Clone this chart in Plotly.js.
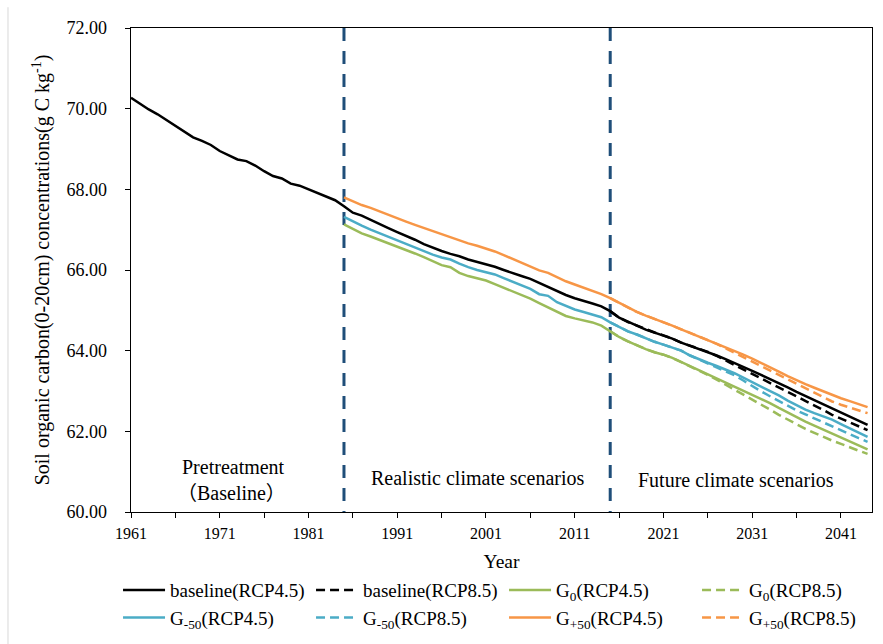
<!DOCTYPE html>
<html>
<head>
<meta charset="utf-8">
<script src="https://cdn.plot.ly/plotly-3.0.1.min.js"></script>
<style>html,body{margin:0;padding:0;background:#fff;}#chart{width:883px;height:644px;}</style>
</head>
<body>
<div id="chart"></div>
<script>
// ---- data ----
var startYearBase = 1961;
var startYearScen = 1985;
var startYearRcp85 = 2015;
var dividerYears = [1985, 2015];

var baselineRCP45 = [
  70.27, 70.12, 69.98, 69.86, 69.72, 69.58, 69.43, 69.29, 69.20, 69.10,
  68.95, 68.85, 68.74, 68.70, 68.59, 68.45, 68.33, 68.27, 68.14, 68.09,
  68.00, 67.91, 67.83, 67.73, 67.58, 67.42, 67.35, 67.24, 67.14, 67.04,
  66.94, 66.85, 66.75, 66.64, 66.55, 66.47, 66.40, 66.34, 66.26, 66.20,
  66.14, 66.08, 66.00, 65.92, 65.85, 65.78, 65.68, 65.58, 65.47, 65.38,
  65.30, 65.24, 65.17, 65.10, 64.98, 64.82, 64.71, 64.62, 64.52, 64.45,
  64.38, 64.30, 64.20, 64.12, 64.05, 63.97, 63.88, 63.79, 63.70, 63.60,
  63.50, 63.40, 63.30, 63.20, 63.09, 62.98, 62.88, 62.78, 62.68, 62.57,
  62.47, 62.37, 62.26, 62.16
];
var baselineRCP85 = [
  64.98, 64.82, 64.71, 64.62, 64.52, 64.45, 64.38, 64.30, 64.20, 64.12,
  64.05, 63.97, 63.87, 63.76, 63.65, 63.54, 63.43, 63.32, 63.21, 63.10,
  62.98, 62.86, 62.75, 62.64, 62.53, 62.41, 62.32, 62.23, 62.13, 62.03
];
var g0RCP45 = [
  67.13, 67.02, 66.91, 66.83, 66.75, 66.67, 66.58, 66.50, 66.41, 66.32,
  66.22, 66.12, 66.07, 65.93, 65.85, 65.80, 65.74, 65.65, 65.56, 65.48,
  65.39, 65.29, 65.18, 65.07, 64.96, 64.86, 64.80, 64.75, 64.70, 64.62,
  64.48, 64.34, 64.23, 64.13, 64.04, 63.96, 63.90, 63.82, 63.72, 63.62,
  63.52, 63.42, 63.32, 63.22, 63.12, 63.02, 62.92, 62.82, 62.70, 62.58,
  62.46, 62.34, 62.24, 62.14, 62.04, 61.95, 61.85, 61.75, 61.65, 61.55
];
var g0RCP85 = [
  64.48, 64.34, 64.23, 64.13, 64.04, 63.96, 63.90, 63.82, 63.72, 63.62,
  63.52, 63.40, 63.28, 63.16, 63.04, 62.92, 62.80, 62.67, 62.54, 62.41,
  62.29, 62.17, 62.06, 61.96, 61.86, 61.77, 61.69, 61.60, 61.52, 61.44
];
var gm50RCP45 = [
  67.32, 67.22, 67.10, 67.00, 66.91, 66.82, 66.73, 66.65, 66.56, 66.47,
  66.38, 66.31, 66.26, 66.16, 66.07, 66.00, 65.94, 65.89, 65.80, 65.71,
  65.63, 65.53, 65.40, 65.36, 65.20, 65.10, 65.02, 64.96, 64.90, 64.83,
  64.70, 64.58, 64.48, 64.40, 64.30, 64.22, 64.15, 64.08, 64.00, 63.88,
  63.78, 63.70, 63.62, 63.54, 63.44, 63.33, 63.22, 63.12, 63.01, 62.89,
  62.76, 62.64, 62.54, 62.45, 62.37, 62.29, 62.18, 62.07, 61.97, 61.86
];
var gm50RCP85 = [
  64.70, 64.58, 64.48, 64.40, 64.30, 64.22, 64.15, 64.08, 64.00, 63.88,
  63.78, 63.70, 63.60, 63.50, 63.39, 63.26, 63.12, 62.99, 62.87, 62.75,
  62.63, 62.52, 62.42, 62.32, 62.22, 62.13, 62.03, 61.93, 61.83, 61.74
];
var gp50RCP45 = [
  67.80, 67.70, 67.61, 67.54, 67.45, 67.36, 67.27, 67.20, 67.12, 67.04,
  66.96, 66.88, 66.80, 66.73, 66.66, 66.60, 66.53, 66.46, 66.37, 66.28,
  66.19, 66.08, 65.99, 65.93, 65.82, 65.72, 65.64, 65.56, 65.48, 65.40,
  65.30, 65.18, 65.06, 64.96, 64.87, 64.79, 64.70, 64.62, 64.53, 64.44,
  64.35, 64.27, 64.18, 64.09, 64.00, 63.90, 63.80, 63.70, 63.59, 63.48,
  63.37, 63.26, 63.17, 63.08, 62.99, 62.90, 62.82, 62.75, 62.67, 62.60
];
var gp50RCP85 = [
  65.30, 65.18, 65.06, 64.96, 64.87, 64.79, 64.70, 64.62, 64.53, 64.44,
  64.35, 64.27, 64.17, 64.06, 63.95, 63.84, 63.73, 63.62, 63.51, 63.40,
  63.29, 63.18, 63.07, 62.96, 62.85, 62.74, 62.66, 62.59, 62.52, 62.45
];

var seriesNames = [
  'baseline(RCP4.5)', 'baseline(RCP8.5)',
  'G<sub>0</sub>(RCP4.5)', 'G<sub>0</sub>(RCP8.5)',
  'G<sub>-50</sub>(RCP4.5)', 'G<sub>-50</sub>(RCP8.5)',
  'G<sub>+50</sub>(RCP4.5)', 'G<sub>+50</sub>(RCP8.5)'
];
var periodLabels = ['Pretreatment', '\uFF08Baseline\uFF09', 'Realistic climate scenarios', 'Future climate scenarios'];
var xTitle = 'Year';
var yTitle = 'Soil organic carbon(0-20cm) concentrations(g C kg<sup>-1</sup>)';

// ---- build ----
function yearsFrom(start, vals) { return vals.map(function (v, i) { return start + i; }); }

var FONT = 'Liberation Serif, Times New Roman, Noto Sans CJK SC, serif';
var cBlack = '#000000', cGreen = '#9BBB59', cBlue = '#4BACC6', cOrange = '#F79646';
var W = 2.5, DASH = '9px,5px';

function tr(name, start, vals, color, dashed, rank) {
  return {
    type: 'scatter', mode: 'lines', name: name,
    x: yearsFrom(start, vals), y: vals,
    line: { color: color, width: W, dash: dashed ? DASH : 'solid' },
    legendrank: rank, hoverinfo: 'skip'
  };
}

var data = [
  tr(seriesNames[1], startYearRcp85, baselineRCP85, cBlack, true, 2),
  tr(seriesNames[3], startYearRcp85, g0RCP85, cGreen, true, 4),
  tr(seriesNames[5], startYearRcp85, gm50RCP85, cBlue, true, 6),
  tr(seriesNames[7], startYearRcp85, gp50RCP85, cOrange, true, 8),
  tr(seriesNames[2], startYearScen, g0RCP45, cGreen, false, 3),
  tr(seriesNames[4], startYearScen, gm50RCP45, cBlue, false, 5),
  tr(seriesNames[6], startYearScen, gp50RCP45, cOrange, false, 7),
  tr(seriesNames[0], startYearBase, baselineRCP45, cBlack, false, 1)
];

var xRange = [1961, 2044.5], yRange = [60, 72];

var shapes = dividerYears.map(function (yr) {
  return { type: 'line', xref: 'x', yref: 'paper', x0: yr, x1: yr, y0: 1, y1: 0,
    line: { color: '#1F4E79', width: 3, dash: '13px,10px' }, layer: 'below' };
});
shapes.push({ type: 'line', xref: 'paper', yref: 'paper', x0: -0.166, x1: -0.166, y0: 1.043, y1: -0.3,
  line: { color: '#D9D9D9', width: 1 } });

var annFont = { family: FONT, size: 20, color: '#000' };
var annotations = [
  { text: periodLabels[0], x: 1972.6, y: 61.12, xref: 'x', yref: 'y', showarrow: false, font: annFont },
  { text: periodLabels[1], x: 1972.3, y: 60.48, xref: 'x', yref: 'y', showarrow: false, font: annFont },
  { text: periodLabels[2], x: 2000.1, y: 60.84, xref: 'x', yref: 'y', showarrow: false, font: annFont },
  { text: periodLabels[3], x: 2029.2, y: 60.80, xref: 'x', yref: 'y', showarrow: false, font: annFont }
];

var layout = {
  width: 883, height: 644,
  margin: { l: 131, r: 11, t: 28, b: 132, autoexpand: false },
  paper_bgcolor: '#fff', plot_bgcolor: '#fff',
  font: { family: FONT, color: '#000' },
  showlegend: true,
  hovermode: false,
  xaxis: {
    range: xRange, tick0: 1961, dtick: 10, ticks: 'outside', ticklen: 5, tickcolor: '#000', tickwidth: 1,
    minor: { tick0: 1961, dtick: 5, ticks: 'outside', ticklen: 5, tickcolor: '#000', tickwidth: 1, showgrid: false },
    showline: true, linecolor: '#000', linewidth: 1.3, mirror: true,
    showgrid: false, zeroline: false, ticklabelstandoff: 1,
    tickfont: { family: FONT, size: 16, color: '#000' },
    title: { text: xTitle, font: { family: FONT, size: 19.5, color: '#000' }, standoff: 13 }
  },
  xaxis2: {
    overlaying: 'x', anchor: 'y', side: 'bottom', range: xRange, tick0: 1961, dtick: 10,
    ticks: 'inside', ticklen: 5, tickcolor: '#000', tickwidth: 1,
    minor: { tick0: 1961, dtick: 5, ticks: 'inside', ticklen: 5, tickcolor: '#000', tickwidth: 1, showgrid: false },
    showticklabels: false, showline: false, showgrid: false, zeroline: false
  },
  yaxis: {
    range: yRange, dtick: 2, tick0: 60, ticks: 'outside', ticklen: 5, tickcolor: '#000', tickwidth: 1,
    tickformat: '.2f', showline: true, linecolor: '#000', linewidth: 1.3, mirror: true,
    showgrid: false, zeroline: false, ticklabelstandoff: 14,
    tickfont: { family: FONT, size: 18, color: '#000' },
    title: { text: yTitle, font: { family: FONT, size: 20, color: '#000' }, standoff: 11 }
  },
  yaxis2: {
    overlaying: 'y', anchor: 'x', side: 'left', range: yRange, dtick: 2, tick0: 60,
    ticks: 'inside', ticklen: 5, tickcolor: '#000', tickwidth: 1,
    showticklabels: false, showline: false, showgrid: false, zeroline: false
  },
  legend: {
    orientation: 'h', x: -0.0175, xanchor: 'left', y: -0.122, yanchor: 'top',
    font: { family: FONT, size: 19, color: '#000' },
    entrywidth: 136, entrywidthmode: 'pixels', itemwidth: 42,
    traceorder: 'normal', bgcolor: 'rgba(0,0,0,0)', borderwidth: 0
  },
  shapes: shapes,
  annotations: annotations
};

Plotly.newPlot('chart', data, layout, { displayModeBar: false, staticPlot: true });
</script>
</body>
</html>
